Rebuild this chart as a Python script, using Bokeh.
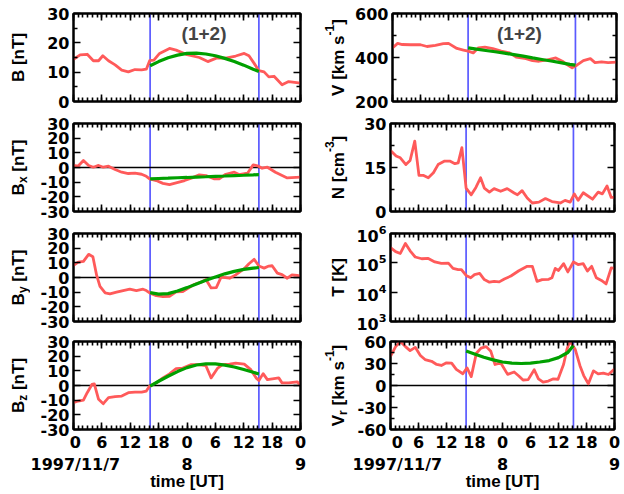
import math
from bokeh.plotting import figure
from bokeh.models import FixedTicker, LinearAxis, LogAxis, Label, Span, Range1d
from bokeh.layouts import column, row
from bokeh.embed import file_html
from bokeh.resources import INLINE
from bokeh.core.properties import value

# ---------------- data (hours since 1997-11-07 00 UT) ----------------
t_B = [0, 1.4, 2.9, 4.2, 5.3, 6.2, 7.4, 8.8, 10.2, 11.6, 13, 14.4, 15.4, 16.1, 17, 18.2, 20.3, 21.7, 23.8, 26.6,
       28.4, 30.2, 32.2, 34.3, 36.1, 37.1, 38.2, 39.2, 40.3, 41.3, 42.4, 44.1, 45.5, 48]
B = [14.4, 15.9, 16.1, 13.9, 13.9, 15.6, 13.9, 12.5, 10.7, 10.1, 10.9, 10.8, 11.0, 13.9, 14.1, 16.4, 18.1, 17.5, 16.1, 15.0,
     13.6, 14.8, 14.8, 15.5, 16.4, 15.6, 13.0, 10.5, 10.1, 8.4, 8.6, 5.7, 6.8, 6.3]

t_Bx = [0, 1, 2.1, 3.2, 4.2, 5.3, 6.3, 7.4, 8.8, 10.2, 11.6, 13, 14.4, 15.4, 16.1, 17.5, 18.9, 20.3, 21.7, 23.5,
        25.2, 26.6, 28, 29.8, 30.8, 32.2, 34, 35, 36.8, 38, 39.1, 39.9, 41, 42.7, 45.2, 48]
Bx = [1.4, 1.0, 4.8, 1.4, 0.2, 1.4, 0.2, 0.9, -1.4, -3.2, -4.1, -3.9, -4.6, -6.0, -7.8, -8.9, -10.8, -11.7, -10.5, -8.9,
      -6.9, -5.0, -5.5, -7.8, -7.8, -4.6, -3.2, -4.8, -3.9, 1.8, 0.9, -0.5, 0.2, -3.2, -7.1, -6.6]

t_By = [0, 1, 2.1, 3.2, 4.1, 4.9, 5.6, 6.7, 7.7, 9.1, 10.5, 11.9, 13.3, 14.7, 15.4, 16.1, 17.5, 18.9, 20.3, 21.7,
        23.1, 24.2, 25.6, 27, 28, 29.1, 30.2, 31.2, 33, 34.3, 36.1, 37.1, 38.2, 39.2, 40.3, 41.3, 42, 43.1, 44.1, 45.2,
        46.2, 47.3, 48]
By = [8.2, 10.5, 11.0, 15.8, 14.2, 1.4, -6.0, -10.5, -11.2, -10.0, -8.9, -8.0, -8.9, -8.0, -8.9, -10.5, -12.4, -13.0, -12.8, -9.8,
      -9.6, -7.3, -4.6, -3.2, -1.4, -7.1, -6.9, 0.2, -0.5, 1.8, 6.0, 9.4, 12.4, 7.8, 6.4, 7.8, 8.0, 3.0, 2.0, -0.5,
      1.8, 1.4, 0.9]

t_Bz = [0, 1, 2.1, 2.9, 3.9, 4.4, 5.3, 6.3, 7.4, 8.8, 10.2, 11.6, 13, 14.4, 15.4, 16.1, 17.5, 18.9, 20.3, 21.7,
        23.1, 24.9, 26.3, 28, 29.1, 30.5, 31.5, 33, 34.3, 36.1, 37.5, 38.6, 39.2, 40.1, 41, 42.4, 43.4, 44.1, 45.5, 47.3, 48]
Bz = [-11.7, -10.6, -9.9, -4.9, 0.7, 1.1, -9.4, -12.4, -8.3, -7.6, -7.2, -4.9, -4.5, -4.5, -3.8, -0.4, 1.8, 5.2, 7.9, 11.5,
      11.9, 14.2, 14.2, 13.5, 5.2, 11.9, 14.2, 14.6, 15.3, 14.6, 10.8, 5.2, 3.4, 8.1, 4.0, 4.7, 5.2, 1.8, 1.8, 2.5, 0.2]

t_V = [0, 1.1, 2.1, 3.9, 6, 7.4, 9.2, 10.9, 12, 13.8, 15.2, 16.2, 17.3, 18.4, 19.8, 21.5, 23.3, 25.1, 26.5, 28.6,
       30, 31.4, 33.2, 35, 36.4, 37.4, 38.5, 39.5, 40.9, 42.4, 43.4, 44.8, 46.2, 48]
V = [444, 464, 459, 458, 458, 450, 455, 463, 464, 441, 434, 429, 421, 444, 447, 440, 429, 421, 402, 395,
     386, 383, 389, 398, 383, 368, 353, 365, 386, 395, 377, 380, 377, 379]

t_N = [0, 1.2, 2.1, 3.3, 4.2, 5.2, 6.1, 7.1, 8.1, 9.2, 10.2, 11.6, 12.7, 13.8, 14.5, 15.3, 16.2, 17.3, 18.3, 19.3,
       20.1, 21.2, 22.2, 23.6, 25, 26.5, 27.2, 28.2, 29.3, 30.4, 31.8, 33.2, 34.6, 36.4, 37.4, 38.5, 39.4, 40.2, 41.3, 43.3,
       44.5, 45.4, 46.4, 47.3, 48]
N = [20.8, 18.9, 18.3, 16.0, 17.4, 24.0, 12.3, 12.3, 11.5, 13.2, 16.0, 17.2, 17.2, 16.3, 16.6, 21.8, 8.0, 5.7, 8.2, 11.5,
     8.0, 6.6, 7.8, 6.9, 7.8, 6.3, 5.7, 7.1, 4.6, 2.9, 3.2, 4.4, 3.4, 2.9, 3.8, 3.2, 6.0, 3.8, 6.4, 4.2,
     6.6, 6.0, 8.7, 4.8, 4.8]

t_T = [0, 1.1, 2.1, 3.2, 4.2, 5.3, 6.7, 8.1, 9.5, 10.9, 12.4, 13.4, 14.5, 15.2, 16.2, 17.2, 18, 19.1, 20.1, 21.2,
       22.2, 23.3, 24.4, 25.8, 27.5, 29.3, 30.4, 31.4, 32.5, 33.9, 34.6, 35.3, 36, 37.1, 38, 39.2, 40.2, 41.3, 42.2, 43.1,
       44.1, 45.2, 46.2, 47.3, 48]
T = [331000, 240000, 209000, 457000, 257000, 158000, 138000, 141000, 107000, 95500,
     97700, 64600, 58900, 58900, 37200, 30900, 39800, 43600, 26900, 21900,
     23400, 22400, 28200, 35500, 53700, 75900, 75900, 23400, 26900, 27500,
     30900, 64600, 55000, 93300, 49000, 107000, 87100, 93300, 52500, 75900,
     30900, 25100, 19100, 67600, 64600]

t_Vr = [0, 1.1, 2.1, 3.2, 4.2, 5.3, 6.4, 7.4, 8.8, 9.9, 10.9, 12, 13.1, 14.1, 15.5, 16.4, 17.3, 18.4, 19.4, 20.5,
        21.5, 22.4, 23.6, 25.1, 26.5, 27.5, 28.4, 29.5, 30.8, 31.7, 32.7, 33.8, 34.8, 35.9, 37.1, 37.8, 38.4, 38.9, 39.6, 40.6,
        41.4, 42.4, 43.5, 44.5, 45.6, 46.7, 48]
Vr = [39.9, 53, 60, 53, 47.5, 52, 41, 35.4, 33, 28.7, 27.3, 30.9, 30.4, 21.9, 16, 24, 12.1, 44, 51, 53,
      46.6, 28.7, 30.9, 15.2, 18.4, 13, 7.5, 8, 21.5, 9, 4.5, 6, 9, 8.5, 29, 49, 60, 56, 49, 27,
      13.5, 2.3, 20, 15.8, 17, 15, 22.5]

# model fit curves (1+2) inside the boundaries
t_fit = [16.2, 18, 20, 22, 24, 26, 28, 30, 32, 34, 36, 38, 39.2]
fit_B = [12.2, 13.6, 14.9, 15.8, 16.4, 16.5, 16.2, 15.6, 14.7, 13.6, 12.4, 11.0, 10.2]
fit_Bx = [-7.7, -7.5, -7.3, -7.0, -6.8, -6.5, -6.3, -6.0, -5.8, -5.5, -5.3, -5.0, -4.8]
fit_By = [-10.3, -11.3, -11.0, -9.2, -6.9, -4.4, -1.9, 0.4, 2.5, 4.2, 5.5, 6.4, 6.8]
fit_Bz = [-0.4, 2.9, 6.3, 9.5, 12.2, 14.0, 14.8, 14.7, 13.9, 12.6, 10.9, 9.0, 7.8]
fit_V = [444, 438, 432, 426, 420, 413, 406, 398, 391, 384, 377, 369, 365]
fit_Vr = [47, 43, 38.5, 35, 32, 30.5, 30, 30.5, 32, 34, 38, 45, 54.5]

t_bounds = [16.2, 39.2]

x_ticks = [0, 6, 12, 18, 24, 30, 36, 42, 48]
x_tick_labels = ["0", "6", "12", "18", "0", "6", "12", "18", "0"]
date_ticks = [0, 24, 48]
date_labels = ["1997/11/7", "8", "9"]

# ---------------- styling / layout ----------------
FONT = "Liberation Sans"
TICKFONT = "DejaVu Sans"
RED = "#FF5A5A"
GREEN = "#00A000"
BLUE = "#5A5AFF"
FS = "17px"
TFS = "16px"
FH = 88
TOPS = [13, 12, 12, 8]
BOTS = [10, 10, 12, 65]
LABW = 30

WID = {' ': .278, '[': .333, ']': .333, 'B': .722, 'n': .611, 'T': .611, 'x': .556, 'y': .556, 'z': .5,
       'r': .389, 'V': .667, 'k': .556, 'm': .889, 's': .556, 'N': .722, 'c': .556, 'K': .722,
       '-': .333, '1': .556, '3': .556}
SIZES = {"n": 17, "sub": 12, "sup": 12}
DX = {"n": 0, "sub": 4.5, "sup": -8.5}


def style_axis(ax, major, minor, labels=True, overrides=None):
    ax.ticker = FixedTicker(ticks=major, minor_ticks=minor)
    ax.major_tick_in = 7
    ax.major_tick_out = 0
    ax.minor_tick_in = 4
    ax.minor_tick_out = 0
    ax.major_tick_line_width = 1.6
    ax.minor_tick_line_width = 1.6
    ax.axis_line_width = 2
    ax.major_label_text_font = TICKFONT
    ax.major_label_text_font_style = "bold"
    if labels:
        ax.major_label_text_color = "black"
        ax.major_label_text_font_size = TFS
        ax.major_label_standoff = 4
    else:
        ax.major_label_text_color = None
        ax.major_label_text_font_size = "1px"
        ax.major_label_standoff = 0
    if overrides:
        ax.major_label_overrides = overrides


def seg_width(txt, k):
    return sum(WID[c] for c in txt) * SIZES[k]


def label_fig(r, segs, cx):
    f = figure(frame_width=LABW, frame_height=FH, min_border_left=0, min_border_right=0,
               min_border_top=TOPS[r], min_border_bottom=BOTS[r],
               x_range=Range1d(0, LABW), y_range=Range1d(0, FH),
               x_axis_location=None, y_axis_location=None,
               output_backend="svg", toolbar_location=None, tools="")
    f.outline_line_color = None
    f.grid.visible = False
    f.background_fill_color = "white"
    f.border_fill_color = "white"
    total = sum(seg_width(txt, k) for txt, k in segs)
    y = FH / 2 - total / 2
    for txt, k in segs:
        if txt.startswith(" "):
            y += seg_width(" ", k)
            txt = txt[1:]
        f.text(x=[cx + DX[k]], y=[y], text=[txt], angle=math.pi / 2,
               text_align="left", text_baseline="middle",
               text_font=value(FONT), text_font_style="bold",
               text_font_size=value(f"{SIZES[k]}px"), text_color="black")
        y += seg_width(txt, k)
    return f


def make_panel(left, r, yr, ymaj, ymin, ylabels, log=False):
    p = figure(frame_width=227 if left else 224, frame_height=FH,
               min_border_left=43 if left else 38, min_border_right=22 if left else 10,
               min_border_top=TOPS[r], min_border_bottom=BOTS[r],
               x_range=Range1d(0, 48), y_range=Range1d(*yr),
               y_axis_type="log" if log else "linear",
               output_backend="svg", toolbar_location=None, tools="")
    p.grid.visible = False
    p.outline_line_color = "black"
    p.outline_line_width = 2
    p.background_fill_color = "white"
    p.border_fill_color = "white"
    minor_x = list(range(0, 49))
    last = (r == 3)
    bottom = p.below[0]
    if last:
        ov = {}
        for tk, tl in zip(x_ticks, x_tick_labels):
            ov[tk] = tl
        for tk, dl in zip(date_ticks, date_labels):
            ov[tk] = ov[tk] + "\n" + dl
        style_axis(bottom, x_ticks, minor_x, labels=True, overrides=ov)
        bottom.major_label_standoff = 3
        bottom.axis_label = "time [UT]"
        bottom.axis_label_standoff = -5
        bottom.axis_label_text_font = FONT
        bottom.axis_label_text_font_style = "bold"
        bottom.axis_label_text_font_size = FS
        bottom.axis_label_text_color = "black"
    else:
        style_axis(bottom, x_ticks, minor_x, labels=False)
    style_axis(p.left[0], ymaj, ymin, labels=True, overrides=ylabels)
    top = LinearAxis()
    style_axis(top, x_ticks, minor_x, labels=False)
    p.add_layout(top, "above")
    right = LogAxis() if log else LinearAxis()
    style_axis(right, ymaj, ymin, labels=False)
    p.add_layout(right, "right")
    for tb in t_bounds:
        p.add_layout(Span(location=tb, dimension="height", line_color=BLUE, line_width=1.7, level="underlay"))
    return p


def zero_line(p):
    p.add_layout(Span(location=0, dimension="width", line_color="black", line_width=1.7, level="underlay"))


def lab(vals):
    return {v: str(v) for v in vals}


def tag(p, x, y):
    p.add_layout(Label(x=x, y=y, text="(1+2)", text_align="center", text_baseline="middle",
                       text_font=FONT, text_font_style="bold", text_font_size="19px"))


b_maj = [-30, -20, -10, 0, 10, 20, 30]
LCX = 17.5   # centre of left-column axis titles inside their strip
RCX = 15.5   # centre of right-column axis titles inside their strip

pB = make_panel(True, 0, (0, 30), [0, 10, 20, 30], [5, 15, 25], lab([0, 10, 20, 30]))
pB.line(t_B, B, line_color=RED, line_width=2.8, line_join="round")
pB.line(t_fit, fit_B, line_color=GREEN, line_width=3.2)
tag(pB, 27.6, 23.2)
lB = label_fig(0, [("B", "n"), (" [nT]", "n")], LCX)

pBx = make_panel(True, 1, (-30, 30), b_maj, [], lab(b_maj))
zero_line(pBx)
pBx.line(t_Bx, Bx, line_color=RED, line_width=2.8, line_join="round")
pBx.line(t_fit, fit_Bx, line_color=GREEN, line_width=3.2)
lBx = label_fig(1, [("B", "n"), ("x", "sub"), (" [nT]", "n")], LCX)

pBy = make_panel(True, 2, (-30, 30), b_maj, [], lab(b_maj))
zero_line(pBy)
pBy.line(t_By, By, line_color=RED, line_width=2.8, line_join="round")
pBy.line(t_fit, fit_By, line_color=GREEN, line_width=3.2)
lBy = label_fig(2, [("B", "n"), ("y", "sub"), (" [nT]", "n")], LCX)

pBz = make_panel(True, 3, (-30, 30), b_maj, [], lab(b_maj))
zero_line(pBz)
pBz.line(t_Bz, Bz, line_color=RED, line_width=2.8, line_join="round")
pBz.line(t_fit, fit_Bz, line_color=GREEN, line_width=3.2)
lBz = label_fig(3, [("B", "n"), ("z", "sub"), (" [nT]", "n")], LCX)

pV = make_panel(False, 0, (200, 600), [200, 400, 600], [300, 500], lab([200, 400, 600]))
pV.line(t_V, V, line_color=RED, line_width=2.8, line_join="round")
pV.line(t_fit, fit_V, line_color=GREEN, line_width=3.2)
tag(pV, 27.2, 508)
lV = label_fig(0, [("V [km s", "n"), ("-1", "sup"), ("]", "n")], RCX)

pN = make_panel(False, 1, (0, 30), [0, 15, 30], [7.5, 22.5], lab([0, 15, 30]))
pN.line(t_N, N, line_color=RED, line_width=2.8, line_join="round")
lN = label_fig(1, [("N [cm", "n"), ("-3", "sup"), ("]", "n")], RCX)

pT = make_panel(False, 2, (1e3, 1e6), [1e3, 1e4, 1e5, 1e6], [], None, log=True)
pT.line(t_T, T, line_color=RED, line_width=2.8, line_join="round")
lT = label_fig(2, [("T [K]", "n")], RCX)

vr_maj = [-60, -30, 0, 30, 60]
pVr = make_panel(False, 3, (-60, 60), vr_maj, [-45, -15, 15, 45], lab(vr_maj))
zero_line(pVr)
pVr.line(t_Vr, Vr, line_color=RED, line_width=2.8, line_join="round")
pVr.line(t_fit, fit_Vr, line_color=GREEN, line_width=3.2)
lVr = label_fig(3, [("V", "n"), ("r", "sub"), (" [km s", "n"), ("-1", "sup"), ("]", "n")], RCX)

layout = column(row(lB, pB, lV, pV), row(lBx, pBx, lN, pN),
                row(lBy, pBy, lT, pT), row(lBz, pBz, lVr, pVr))

with open("out.html", "w") as f:
    f.write(file_html(layout, INLINE))
